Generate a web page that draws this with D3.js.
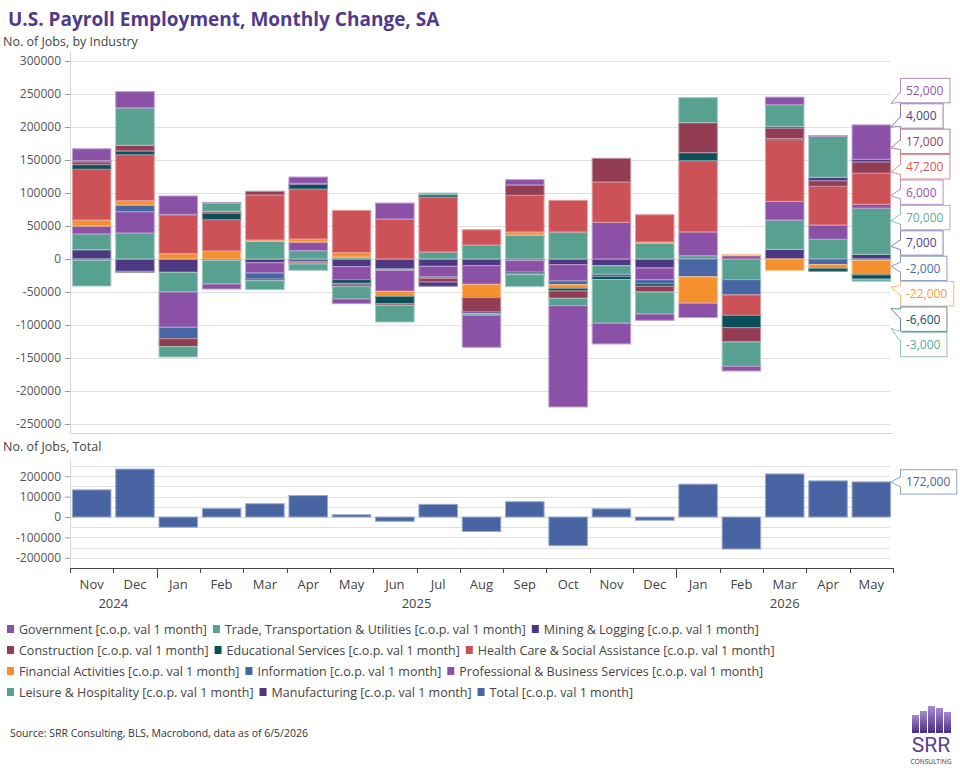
<!DOCTYPE html>
<html>
<head>
<meta charset="utf-8">
<script src="https://cdn.jsdelivr.net/npm/d3@7"></script>
<style>
  body { margin: 0; background: #fff; }
  svg text { font-family: "Open Sans", sans-serif; }
</style>
</head>
<body>
<svg id="chart" width="960" height="768"></svg>
<script>
// months shown, Nov 2024 .. May 2026
var months = ['Nov','Dec','Jan','Feb','Mar','Apr','May','Jun','Jul','Aug','Sep','Oct','Nov','Dec','Jan','Feb','Mar','Apr','May'];
var monthYear = [2024,2024,2025,2025,2025,2025,2025,2025,2025,2025,2025,2025,2025,2025,2026,2026,2026,2026,2026];

// monthly change by industry
var manufacturing = [14000,-18700,-20200,-2500,-5600,-3500,-11600,-15200,-11100,-10100,-2500,-8600,-10100,-13600,0,0,14600,0,7000];
var leisure       = [24000,39400,-29800,-35400,26800,12600,3000,-2000,10600,21200,36400,40900,-13100,24200,5000,-31300,44400,29800,70000];
var professional  = [12000,32300,-53500,-7600,-15700,13100,-19700,-31800,-16200,-28300,-17200,-24700,55600,-17700,36000,5000,28300,21700,6000];
var information   = [-2000,10100,-17200,0,-9100,-2000,0,0,-2000,0,0,-5600,-3500,-6100,-27000,-23200,0,-8600,-2000];
var financial     = [9000,6600,8100,12100,2000,4500,6600,-7600,0,-20200,4500,-5600,0,1500,-40000,1500,-17200,-5600,-22000];
var health        = [77000,69700,58100,47500,68200,75800,64100,60600,83300,23200,55600,48000,61100,41400,108000,-30800,93400,58600,47200];
var educational   = [7000,5600,1500,10100,0,7100,-5600,-11100,3500,0,-2000,-4000,-4500,-4000,12100,-18700,2000,-4500,-6600];
var construction  = [4000,8600,-12100,2500,5600,-2000,-2500,-2500,-5600,-21700,15700,-11100,35900,-8600,45500,-21700,15700,8600,17000];
var mining        = [2000,-1500,0,0,-2500,1500,-2500,0,-6500,-2500,-2000,0,0,0,0,0,2500,5100,4000];
var trade         = [-39000,56600,-15700,12600,-13600,-9600,-18700,-25300,2500,-2500,-18200,-11100,-66200,-33300,37900,-36900,32800,62100,-3000];
var government    = [18000,24700,27800,1000,0,9600,-7100,24200,0,-48500,8100,-153500,-31300,-9600,-21700,-7100,11600,1000,52000];
var total         = [133000,235000,-50000,41000,65000,105000,11000,-21000,62000,-71000,75000,-141000,40000,-16000,161000,-157000,211000,177000,172000];

var topTicks = [300000,250000,200000,150000,100000,50000,0,-50000,-100000,-150000,-200000,-250000];
var bottomTicks = [200000,100000,0,-100000,-200000];

var suffix = ' [c.o.p. val 1 month]';
var series = [
  {key:'government',    name:'Government',                          values:government,    color:'#8b51a6'},
  {key:'trade',         name:'Trade, Transportation & Utilities',   values:trade,         color:'#58a190'},
  {key:'mining',        name:'Mining & Logging',                    values:mining,        color:'#4e3883'},
  {key:'construction',  name:'Construction',                        values:construction,  color:'#923d53'},
  {key:'educational',   name:'Educational Services',                values:educational,   color:'#0b4f5a'},
  {key:'health',        name:'Health Care & Social Assistance',     values:health,        color:'#cc5258'},
  {key:'financial',     name:'Financial Activities',                values:financial,     color:'#f5902f'},
  {key:'information',   name:'Information',                         values:information,   color:'#4866a3'},
  {key:'professional',  name:'Professional & Business Services',    values:professional,  color:'#8b51a6'},
  {key:'leisure',       name:'Leisure & Hospitality',               values:leisure,       color:'#58a190'},
  {key:'manufacturing', name:'Manufacturing',                       values:manufacturing, color:'#4e3883'}
];
var totalColor = '#4864a2';
// stacking order, bottom first
var stackKeys = ['manufacturing','leisure','professional','information','financial','health','educational','construction','mining','trade','government'];

var byKey = {};
series.forEach(function(s) { byKey[s.key] = s; });

var fmt = d3.formatLocale({decimal: '.', thousands: ',', grouping: [3], currency: ['$',''], minus: '-'}).format(',');

var svg = d3.select('#chart');
var left = 70, right = 893;

var x = d3.scaleBand()
  .domain(d3.range(months.length))
  .range([left, right])
  .paddingInner(0.11)
  .paddingOuter(0.055);

var y = d3.scaleLinear().domain([-250000, 300000]).range([424, 61]);
var y2 = d3.scaleLinear().domain([-250000, 250000]).range([568, 466]);

function light(c, t) { return d3.interpolateRgb(c, '#fff')(t); }

// titles
svg.append('text').attr('x', 8).attr('y', 26)
  .style('font-size', '19px').style('font-weight', 700).style('fill', '#4f3a8c')
  .text('U.S. Payroll Employment, Monthly Change, SA');
svg.append('text').attr('x', 3).attr('y', 46)
  .style('font-size', '12.5px').style('fill', '#444')
  .text('No. of Jobs, by Industry');
svg.append('text').attr('x', 3).attr('y', 451)
  .style('font-size', '12.5px').style('fill', '#444')
  .text('No. of Jobs, Total');

// ---- top panel ----
var gTop = svg.append('g');
gTop.selectAll('.grid').data(topTicks).enter().append('line')
  .attr('x1', left).attr('x2', 890)
  .attr('y1', function(d) { return Math.round(y(d)) + 0.5; })
  .attr('y2', function(d) { return Math.round(y(d)) + 0.5; })
  .style('stroke', '#e0e0e0');

var axTop = gTop.append('g')
  .attr('transform', 'translate(' + left + ',0)')
  .call(d3.axisLeft(y).tickValues(topTicks).tickSize(5).tickPadding(4).tickFormat(function(d) { return String(d); }));
axTop.select('.domain').remove();
axTop.selectAll('.tick line').style('stroke', '#999');
axTop.selectAll('.tick text').style('font-size', '12px').style('fill', '#555').style('font-family', '"Open Sans", sans-serif');

gTop.append('line').attr('x1', left + 0.5).attr('x2', left + 0.5).attr('y1', 52).attr('y2', 433).style('stroke', '#d6d6d6');
gTop.append('line').attr('x1', left).attr('x2', right).attr('y1', 433.5).attr('y2', 433.5).style('stroke', '#d6d6d6');

var rows = months.map(function(m, i) {
  var o = {i: i};
  series.forEach(function(s) { o[s.key] = s.values[i]; });
  return o;
});
var stacked = d3.stack().keys(stackKeys).offset(d3.stackOffsetDiverging)(rows);

gTop.selectAll('.layer').data(stacked).enter().append('g')
  .each(function(layer) {
    var c = byKey[layer.key].color;
    d3.select(this).selectAll('rect')
      .data(layer.filter(function(d) { return d[1] !== d[0]; }))
      .enter().append('rect')
      .attr('x', function(d) { return x(d.data.i); })
      .attr('width', x.bandwidth())
      .attr('y', function(d) { return y(d[1]); })
      .attr('height', function(d) { return y(d[0]) - y(d[1]); })
      .style('fill', c)
      .style('stroke', light(c, 0.45))
      .style('stroke-width', 1);
  });

// callout labels for the last month
var last = months.length - 1;
var boxH = 25.4;
var callouts = [];
stacked.forEach(function(layer) {
  var d = layer[last];
  var v = byKey[layer.key].values[last];
  if (v !== 0) callouts.push({key: layer.key, value: v, target: y((d[0] + d[1]) / 2)});
});
callouts.sort(function(a, b) { return a.target - b.target; });

function spread(items, h) {
  var clusters = items.map(function(it) { return {items: [it], top: it.target - h / 2}; });
  var merged = true;
  while (merged) {
    merged = false;
    for (var k = 0; k < clusters.length - 1; k++) {
      var a = clusters[k], b = clusters[k + 1];
      if (a.top + a.items.length * h > b.top) {
        var all = a.items.concat(b.items);
        var mean = d3.mean(all, function(it) { return it.target; });
        clusters.splice(k, 2, {items: all, top: mean - all.length * h / 2});
        merged = true;
        break;
      }
    }
  }
  clusters.forEach(function(c) {
    c.items.forEach(function(it, j) { it.cy = c.top + h * j + h / 2; });
  });
}
spread(callouts, boxH);

function drawCallout(g, cy, target, text, color, strokeColor) {
  var bx = 900;
  var shift = Math.max(-18, Math.min(18, (target - cy) * 0.25));
  var t = g.append('text').attr('x', bx + 6).attr('y', cy + 4.5)
    .style('font-size', '12px').style('fill', color).text(text);
  var w = t.node().getComputedTextLength() + 12;
  g.insert('rect', 'text').attr('x', bx + 0.5).attr('y', cy - boxH / 2 + 0.5)
    .attr('width', w).attr('height', boxH - 1)
    .style('fill', '#fff').style('stroke', strokeColor);
  var b1 = cy + shift * 0.5 - 5, b2 = cy + shift * 0.5 + 5;
  var tip = [bx - 9, cy + shift];
  g.insert('path', 'text')
    .attr('d', 'M' + (bx + 1.5) + ',' + b1 + 'L' + tip[0] + ',' + tip[1] + 'L' + (bx + 1.5) + ',' + b2 + 'Z')
    .style('fill', '#fff').style('stroke', 'none');
  g.insert('path', 'text')
    .attr('d', 'M' + (bx + 0.5) + ',' + b1 + 'L' + tip[0] + ',' + tip[1] + 'L' + (bx + 0.5) + ',' + b2)
    .style('fill', 'none').style('stroke', strokeColor);
}

var gLab = svg.append('g').attr('transform', 'translate(0,-4)');
callouts.forEach(function(c) {
  var col = byKey[c.key].color;
  drawCallout(gLab.append('g'), c.cy, c.target + 4, fmt(c.value), d3.color(col).brighter(0.15), light(col, 0.35));
});

// ---- bottom panel ----
var gBot = svg.append('g');
gBot.selectAll('.grid').data(d3.range(-200000, 250001, 50000)).enter().append('line')
  .attr('x1', left).attr('x2', 890)
  .attr('y1', function(d) { return Math.round(y2(d)) + 0.5; })
  .attr('y2', function(d) { return Math.round(y2(d)) + 0.5; })
  .style('stroke', '#e0e0e0');

var axBot = gBot.append('g')
  .attr('transform', 'translate(' + left + ',0)')
  .call(d3.axisLeft(y2).tickValues(bottomTicks).tickSize(5).tickPadding(4).tickFormat(function(d) { return String(d); }));
axBot.select('.domain').remove();
axBot.selectAll('.tick line').style('stroke', '#999');
axBot.selectAll('.tick text').style('font-size', '12px').style('fill', '#555').style('font-family', '"Open Sans", sans-serif');

gBot.append('line').attr('x1', left + 0.5).attr('x2', left + 0.5).attr('y1', 460).attr('y2', 568).style('stroke', '#d6d6d6');

gBot.selectAll('.tot').data(total).enter().append('rect')
  .attr('x', function(d, i) { return x(i); })
  .attr('width', x.bandwidth())
  .attr('y', function(d) { return y2(Math.max(0, d)); })
  .attr('height', function(d) { return Math.abs(y2(d) - y2(0)); })
  .style('fill', totalColor)
  .style('stroke', light(totalColor, 0.45));

drawCallout(gBot.append('g'), y2(total[last]), y2(total[last]), fmt(total[last]), totalColor, light(totalColor, 0.4));

// x axis (bottom)
var step = x.step();
var xAxis = gBot.append('g');
xAxis.append('line').attr('x1', left).attr('x2', right).attr('y1', 568.5).attr('y2', 568.5).style('stroke', '#444');
d3.range(months.length + 1).forEach(function(i) {
  var bx = Math.round(x(0) - step * x.paddingInner() / 2 + i * step) + 0.5;
  var yearEdge = i > 0 && i < months.length && monthYear[i] !== monthYear[i - 1];
  xAxis.append('line').attr('x1', bx).attr('x2', bx).attr('y1', 568).attr('y2', yearEdge ? 578 : 573).style('stroke', '#444');
});
xAxis.selectAll('.mlab').data(months).enter().append('text')
  .attr('x', function(d, i) { return x(i) + x.bandwidth() / 2; })
  .attr('y', 589)
  .attr('text-anchor', 'middle')
  .style('font-size', '13px').style('fill', '#444')
  .text(function(d) { return d; });

var yearGroups = d3.groups(d3.range(months.length), function(i) { return monthYear[i]; });
xAxis.selectAll('.ylab').data(yearGroups).enter().append('text')
  .attr('x', function(g) {
    var idx = g[1];
    return (x(idx[0]) + x(idx[idx.length - 1]) + x.bandwidth()) / 2;
  })
  .attr('y', 608)
  .attr('text-anchor', 'middle')
  .style('font-size', '13px').style('fill', '#444')
  .text(function(g) { return g[0]; });

// ---- legend ----
var legendItems = series.map(function(s) { return {name: s.name + suffix, color: s.color}; });
legendItems.push({name: 'Total' + suffix, color: totalColor});
var gLeg = svg.append('g');
legendItems.forEach(function(it, k) {
  var row = Math.floor(k / 3);
  if (k % 3 === 0) gLeg.lx = 7;
  var ly = 634 + row * 21;
  gLeg.append('rect').attr('x', gLeg.lx).attr('y', ly - 9).attr('width', 7).attr('height', 8).style('fill', it.color);
  var t = gLeg.append('text').attr('x', gLeg.lx + 12).attr('y', ly)
    .style('font-size', '12.5px').style('fill', '#444').text(it.name);
  gLeg.lx += 12 + t.node().getComputedTextLength() + 6;
});

svg.append('text').attr('x', 10).attr('y', 737)
  .style('font-size', '10.5px').style('fill', '#333')
  .text('Source: SRR Consulting, BLS, Macrobond, data as of 6/5/2026');

// ---- logo ----
var defs = svg.append('defs');
var grad = defs.append('linearGradient').attr('id', 'logoGrad').attr('x1', 0).attr('y1', 0).attr('x2', 0).attr('y2', 1);
grad.append('stop').attr('offset', '0%').attr('stop-color', '#a58ad0');
grad.append('stop').attr('offset', '100%').attr('stop-color', '#4a2d85');
var logo = svg.append('g');
[18, 22, 27, 25, 21].forEach(function(h, i) {
  logo.append('rect').attr('x', 912 + i * 8).attr('y', 733 - h).attr('width', 7).attr('height', h).style('fill', 'url(#logoGrad)');
});
logo.append('text').attr('x', 931).attr('y', 752).attr('text-anchor', 'middle')
  .style('font-size', '21px').style('fill', '#5b3d92').style('font-family', '"Liberation Sans Narrow", "Roboto", sans-serif')
  .text('SRR');
logo.append('text').attr('x', 931).attr('y', 764).attr('text-anchor', 'middle')
  .style('font-size', '6.5px').style('fill', '#333')
  .text('CONSULTING');
</script>
</body>
</html>
